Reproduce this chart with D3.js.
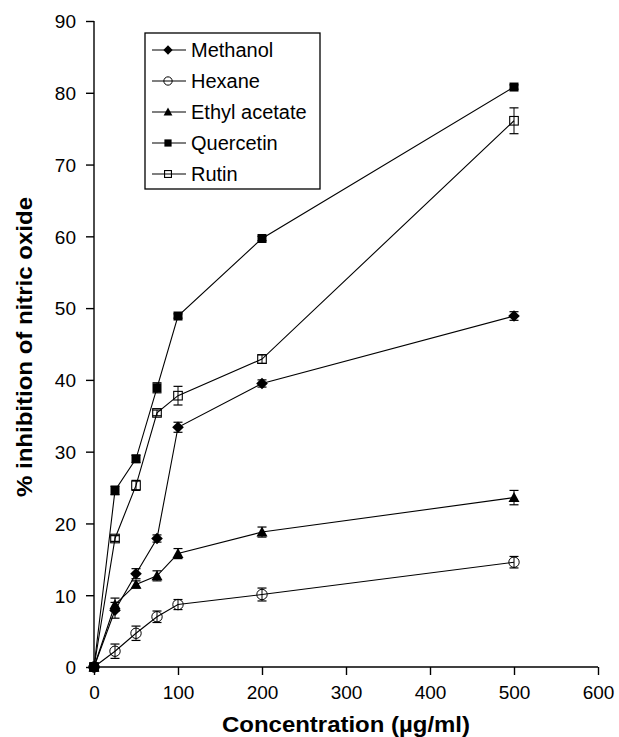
<!DOCTYPE html>
<html><head><meta charset="utf-8">
<script src="https://cdn.jsdelivr.net/npm/d3@7"></script>
<style>body{margin:0;background:#fff}svg{display:block}</style>
</head><body>
<svg id="c" width="619" height="737"></svg>
<script>
const concentrations = [0, 25, 50, 75, 100, 200, 500];
const seriesNames = ["Methanol", "Hexane", "Ethyl acetate", "Quercetin", "Rutin"];
const methanol     = [0, 7.9, 13.0, 17.9, 33.4, 39.5, 48.9];
const methanolErr  = [0.4, 1.1, 0.7, 0.5, 0.7, 0.5, 0.6];
const hexane       = [0, 2.2, 4.7, 7.0, 8.7, 10.1, 14.6];
const hexaneErr    = [0.3, 1.0, 1.0, 0.8, 0.7, 0.9, 0.8];
const ethylAcetate = [0, 8.7, 11.5, 12.7, 15.8, 18.8, 23.6];
const ethylErr     = [0.3, 0.9, 0.5, 0.7, 0.7, 0.7, 1.0];
const quercetin    = [0, 24.6, 29.0, 38.9, 48.9, 59.7, 80.8];
const quercetinErr = [0.3, 0.6, 0.5, 0.7, 0.3, 0.3, 0.3];
const rutin        = [0, 17.9, 25.3, 35.4, 37.8, 42.9, 76.1];
const rutinErr     = [0.3, 0.4, 0.7, 0.4, 1.3, 0.6, 1.8];
const xTicks = [0, 100, 200, 300, 400, 500, 600];
const yTicks = [0, 10, 20, 30, 40, 50, 60, 70, 80, 90];

const series = [
  {name: seriesNames[0], v: methanol, e: methanolErr, sym: "diamond"},
  {name: seriesNames[1], v: hexane, e: hexaneErr, sym: "circle"},
  {name: seriesNames[2], v: ethylAcetate, e: ethylErr, sym: "triangle"},
  {name: seriesNames[3], v: quercetin, e: quercetinErr, sym: "squareFilled"},
  {name: seriesNames[4], v: rutin, e: rutinErr, sym: "squareOpen"}
];

const svg = d3.select("#c");
const font = "'Liberation Sans', Arial, Helvetica, sans-serif";
const x = d3.scaleLinear().domain([0, 600]).range([94, 598]);
const y = d3.scaleLinear().domain([0, 90]).range([667, 21]);

// axes
const xa = svg.append("g").attr("transform", "translate(0,667)")
  .call(d3.axisBottom(x).tickValues(xTicks).tickSize(8).tickPadding(6));
const ya = svg.append("g").attr("transform", "translate(94,0)")
  .call(d3.axisLeft(y).tickValues(yTicks).tickSize(8).tickPadding(10));
[xa, ya].forEach(a => {
  a.select(".domain").attr("stroke", "#000").attr("stroke-width", 1.4);
  a.selectAll(".tick line").attr("stroke", "#000").attr("stroke-width", 1.4);
  a.selectAll("text").attr("font-family", font).attr("font-size", 19).attr("fill", "#000");
});
xa.select(".domain").attr("d", "M94,0H598");
ya.select(".domain").attr("d", "M0,21V667");
xa.selectAll("text").attr("dy", "0.95em");
ya.selectAll("text").attr("dy", "0.36em");

svg.append("text").attr("x", 346).attr("y", 732).attr("text-anchor", "middle")
  .attr("font-family", font).attr("font-size", 22).attr("font-weight", "bold")
  .attr("textLength", 248).attr("lengthAdjust", "spacingAndGlyphs")
  .text("Concentration (\u00b5g/ml)");
svg.append("text").attr("transform", "translate(32,347) rotate(-90)").attr("text-anchor", "middle")
  .attr("font-family", font).attr("font-size", 22).attr("font-weight", "bold")
  .attr("textLength", 300).attr("lengthAdjust", "spacingAndGlyphs")
  .text("% inhibition of nitric oxide");

function drawMarker(g, sym, cx, cy, scale) {
  const s = scale || 1;
  if (sym === "diamond") {
    const h = 5.8 * s;
    g.append("path").attr("d", `M${cx},${cy - h}L${cx + h},${cy}L${cx},${cy + h}L${cx - h},${cy}Z`).attr("fill", "#000");
  } else if (sym === "circle") {
    g.append("circle").attr("cx", cx).attr("cy", cy).attr("r", 5.2 * s)
      .attr("fill", "none").attr("stroke", "#000").attr("stroke-width", 1);
  } else if (sym === "triangle") {
    const h = 5.5 * s;
    g.append("path").attr("d", `M${cx},${cy - h}L${cx + h},${cy + h * 0.8}L${cx - h},${cy + h * 0.8}Z`).attr("fill", "#000");
  } else if (sym === "squareFilled") {
    const h = 4.5 * s;
    g.append("rect").attr("x", cx - h).attr("y", cy - h).attr("width", 2 * h).attr("height", 2 * h).attr("fill", "#000");
  } else {
    const h = 4.3 * s;
    g.append("rect").attr("x", cx - h).attr("y", cy - h).attr("width", 2 * h).attr("height", 2 * h)
      .attr("fill", "none").attr("stroke", "#000").attr("stroke-width", 1.1);
  }
}

const line = d3.line().x(d => x(d[0])).y(d => y(d[1]));
const plot = svg.append("g");
series.forEach(s => {
  const pts = concentrations.map((c, i) => [c, s.v[i]]);
  plot.append("path").datum(pts).attr("d", line).attr("fill", "none").attr("stroke", "#000").attr("stroke-width", 1.1);
});
series.forEach(s => {
  concentrations.forEach((c, i) => {
    const cx = x(c), lo = y(s.v[i] - s.e[i]), hi = y(s.v[i] + s.e[i]);
    const g = plot.append("g");
    g.append("line").attr("x1", cx).attr("x2", cx).attr("y1", lo).attr("y2", hi).attr("stroke", "#000").attr("stroke-width", 1);
    g.append("line").attr("x1", cx - 4.5).attr("x2", cx + 4.5).attr("y1", lo).attr("y2", lo).attr("stroke", "#000").attr("stroke-width", 1.2);
    g.append("line").attr("x1", cx - 4.5).attr("x2", cx + 4.5).attr("y1", hi).attr("y2", hi).attr("stroke", "#000").attr("stroke-width", 1.2);
    drawMarker(g, s.sym, cx, y(s.v[i]));
  });
});

// legend
const lg = svg.append("g");
const lx = 145, ly = 33, lw = 175, lh = 156, rowH = 31;
lg.append("rect").attr("x", lx).attr("y", ly).attr("width", lw).attr("height", lh)
  .attr("fill", "#fff").attr("stroke", "#000").attr("stroke-width", 1.3);
series.forEach((s, i) => {
  const cy = ly + 17 + i * rowH;
  lg.append("line").attr("x1", lx + 7).attr("x2", lx + 41).attr("y1", cy).attr("y2", cy).attr("stroke", "#000").attr("stroke-width", 1.1);
  drawMarker(lg, s.sym, lx + 23, cy, 0.8);
  lg.append("text").attr("x", lx + 46).attr("y", cy + 7).attr("font-family", font).attr("font-size", 20)
    .text(s.name);
});
</script>
</body></html>
